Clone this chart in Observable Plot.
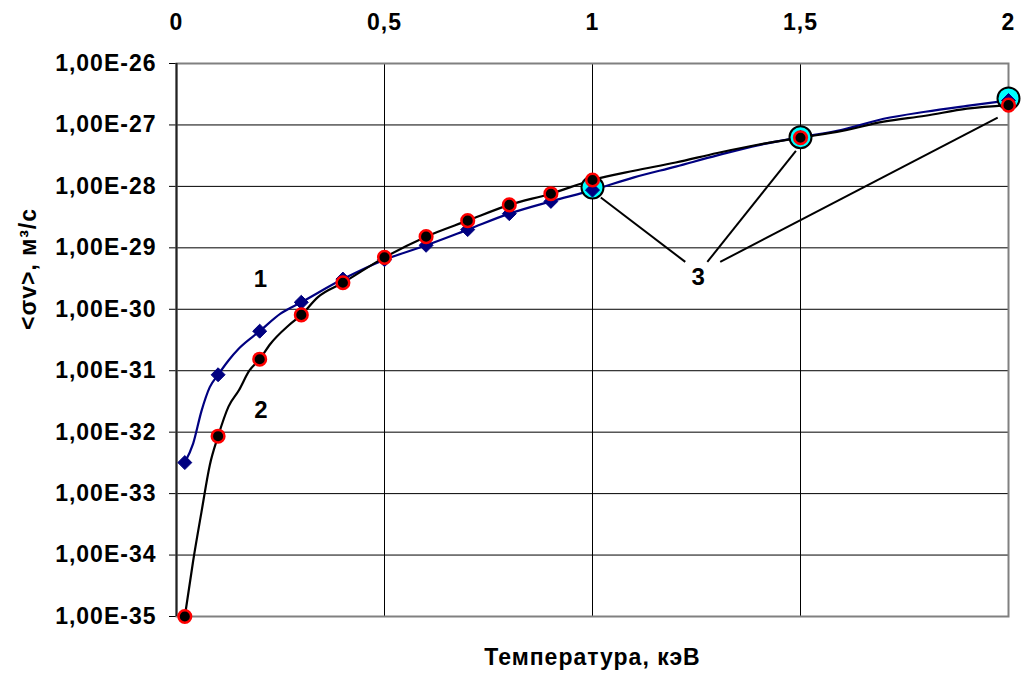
<!DOCTYPE html>
<html>
<head>
<meta charset="utf-8">
<script src="https://cdn.jsdelivr.net/npm/d3@7"></script>
<script src="https://cdn.jsdelivr.net/npm/@observablehq/plot@0.6"></script>
<style>
  html, body { margin: 0; padding: 0; background: #fff; }
  #chart svg { display: block; }
</style>
</head>
<body>
<div id="chart"></div>
<script>
// ---- Data ----
// Curve 1 (blue line)
const line1X = [0.02, 0.04, 0.06, 0.08, 0.1, 0.125, 0.15, 0.2, 0.25, 0.3, 0.4, 0.5, 0.6, 0.7, 0.8, 0.9, 1.0, 1.1, 1.2, 1.3, 1.4, 1.5, 1.6, 1.7, 1.8, 1.9, 2.0];
const line1Y = [3.2e-33, 6.5e-33, 2.2e-32, 5.4e-32, 8.6e-32, 1.47e-31, 2.3e-31, 4.4e-31, 8.5e-31, 1.3e-30, 3.1e-30, 6.4e-30, 1.1e-29, 1.98e-29, 3.6e-29, 5.7e-29, 8.7e-29, 1.4e-28, 2.1e-28, 3.2e-28, 4.7e-28, 6.3e-28, 8.3e-28, 1.26e-27, 1.64e-27, 2.04e-27, 2.5e-27];
// Curve 2 (black line)
const line2X = [0.02, 0.04, 0.06, 0.08, 0.1, 0.125, 0.15, 0.175, 0.2, 0.225, 0.27, 0.3, 0.34, 0.4, 0.5, 0.6, 0.7, 0.8, 0.9, 1.0, 1.1, 1.2, 1.3, 1.4, 1.5, 1.6, 1.7, 1.8, 1.9, 2.0];
const line2Y = [1e-35, 8e-35, 5e-34, 2.9e-33, 8.6e-33, 2.6e-32, 4.8e-32, 1.0e-31, 1.54e-31, 2.7e-31, 5.5e-31, 8.1e-31, 1.58e-30, 2.7e-30, 7.0e-30, 1.52e-29, 2.77e-29, 5.0e-29, 7.6e-29, 1.27e-28, 1.8e-28, 2.45e-28, 3.5e-28, 4.8e-28, 6.2e-28, 8e-28, 1.13e-27, 1.41e-27, 1.84e-27, 2.1e-27];
// Markers series 1 (diamonds)
const mark1X = [0.02, 0.1, 0.2, 0.3, 0.4, 0.5, 0.6, 0.7, 0.8, 0.9, 1.0, 1.5, 2.0];
const mark1Y = [3.2e-33, 8.6e-32, 4.4e-31, 1.3e-30, 3.1e-30, 6.4e-30, 1.1e-29, 1.98e-29, 3.6e-29, 5.7e-29, 8.7e-29, 6.3e-28, 2.5e-27];
// Markers series 2 (red circles)
const mark2X = [0.02, 0.1, 0.2, 0.3, 0.4, 0.5, 0.6, 0.7, 0.8, 0.9, 1.0, 1.5, 2.0];
const mark2Y = [1e-35, 8.6e-33, 1.54e-31, 8.1e-31, 2.7e-30, 7.0e-30, 1.52e-29, 2.77e-29, 5.0e-29, 7.6e-29, 1.27e-28, 6.2e-28, 2.1e-27];
// Markers series 3 (cyan circles)
const mark3X = [1.0, 1.5, 2.0];
const mark3Y = [9.6e-29, 6.3e-28, 2.7e-27];

// Axis ticks
const xTicks = [0, 0.5, 1, 1.5, 2];
const xTickLabels = ["0", "0,5", "1", "1,5", "2"];
const yTicks = [1e-26, 1e-27, 1e-28, 1e-29, 1e-30, 1e-31, 1e-32, 1e-33, 1e-34, 1e-35];
const yTickLabels = ["1,00E-26", "1,00E-27", "1,00E-28", "1,00E-29", "1,00E-30", "1,00E-31", "1,00E-32", "1,00E-33", "1,00E-34", "1,00E-35"];
const xGrid = [0.5, 1, 1.5, 2];

// Curve labels
const curveLabels = ["1", "2", "3"];
const curveLabelX = [0.203, 0.204, 1.255];
const curveLabelY = [3.1e-30, 2.3e-32, 3.3e-30];
// Leader lines from label "3" to the marked points
const leaderX1 = [1.223, 1.276, 1.307];
const leaderY1 = [5.9e-30, 5.9e-30, 5.9e-30];
const leaderX2 = [1.02, 1.489, 1.974];
const leaderY2 = [6.6e-29, 3.8e-28, 1.32e-27];

const xTitle = "Температура, кэВ";
const yTitle = "<σv>, м³/с";

// ---- Build tables ----
const line1 = line1X.map((x, i) => ({x, y: line1Y[i]}));
const line2 = line2X.map((x, i) => ({x, y: line2Y[i]}));
const m1 = mark1X.map((x, i) => ({x, y: mark1Y[i]}));
const m2 = mark2X.map((x, i) => ({x, y: mark2Y[i]}));
const m3 = mark3X.map((x, i) => ({x, y: mark3Y[i]}));
const labels = curveLabels.map((t, i) => ({t, x: curveLabelX[i], y: curveLabelY[i]}));
const leaders = leaderX1.map((x1, i) => ({x1, y1: leaderY1[i], x2: leaderX2[i], y2: leaderY2[i]}));

const FONT = "'Liberation Sans', Arial, sans-serif";

const chart = Plot.plot({
  width: 1021,
  height: 676,
  marginLeft: 176,
  marginRight: 13,
  marginTop: 63,
  marginBottom: 60,
  style: {fontFamily: FONT, fontSize: "23px", fontWeight: "bold", color: "#000", background: "#fff", letterSpacing: "1px"},
  x: {
    domain: [0, 2],
    axis: "top",
    ticks: xTicks,
    tickFormat: d => xTickLabels[xTicks.indexOf(d)],
    tickSize: 0,
    tickPadding: 34,
    label: null
  },
  y: {
    type: "log",
    domain: [1e-35, 1e-26],
    ticks: yTicks,
    tickFormat: d => yTickLabels[yTicks.indexOf(d)],
    tickSize: 7,
    tickPadding: 13,
    label: null
  },
  marks: [
    Plot.ruleY(yTicks, {stroke: "#000", strokeWidth: 1}),
    Plot.ruleX(xGrid, {stroke: "#000", strokeWidth: 1}),
    Plot.frame({stroke: "#808080", strokeWidth: 2}),
    Plot.ruleX([0], {stroke: "#222", strokeWidth: 2}),
    Plot.line(line1, {x: "x", y: "y", stroke: "#000080", strokeWidth: 2.2, curve: "monotone-x"}),
    Plot.line(line2, {x: "x", y: "y", stroke: "#000", strokeWidth: 2.2, curve: "monotone-x"}),
    Plot.link(leaders, {x1: "x1", y1: "y1", x2: "x2", y2: "y2", stroke: "#000", strokeWidth: 2}),
    Plot.dot(m3, {x: "x", y: "y", r: 11, fill: "#00ffff", stroke: "#000", strokeWidth: 2}),
    Plot.dot(m1, {x: "x", y: "y", r: 6.3, symbol: "diamond2", fill: "#000080", stroke: "#000080", strokeWidth: 1}),
    Plot.dot(m2, {x: "x", y: "y", r: 6.3, fill: "#000", stroke: "#ff0000", strokeWidth: 2.5}),
    Plot.text(labels, {x: "x", y: "y", text: "t", fontSize: 24, fontWeight: "bold", fill: "#000"}),
    Plot.text([xTitle], {frameAnchor: "bottom", dy: 48, fontSize: 23, fontWeight: "bold", fill: "#000", style: {letterSpacing: "2.2px"}}),
    Plot.text([yTitle], {frameAnchor: "left", dx: -148, dy: -10, rotate: -90, fontSize: 23, fontWeight: "bold", fill: "#000"})
  ]
});
document.getElementById("chart").appendChild(chart);
</script>
</body>
</html>
